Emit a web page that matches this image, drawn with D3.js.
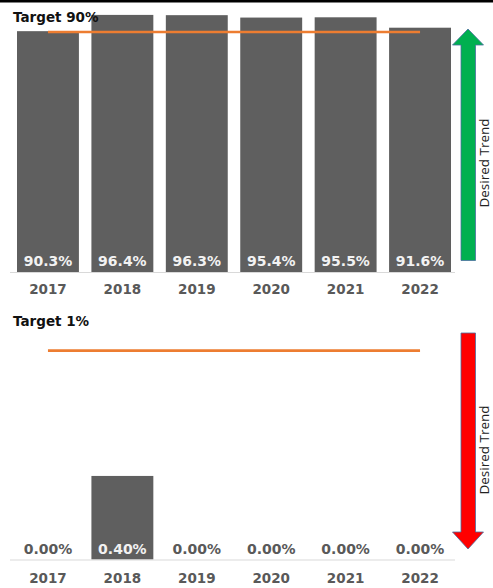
<!DOCTYPE html>
<html>
<head>
<meta charset="utf-8">
<script src="https://cdn.jsdelivr.net/npm/d3@7"></script>
<style>
  html, body { margin: 0; padding: 0; background: #ffffff; }
  svg { display: block; }
</style>
</head>
<body>
<div id="chart"></div>
<script>
// ---- data ----
const years = ["2017", "2018", "2019", "2020", "2021", "2022"];
const topValues = [90.3, 96.4, 96.3, 95.4, 95.5, 91.6];
const topTarget = 90;
const topTargetLabel = "Target 90%";
const bottomValues = [0.00, 0.40, 0.00, 0.00, 0.00, 0.00];
const bottomTarget = 1;
const bottomTargetLabel = "Target 1%";
const trendLabel = "Desired Trend";

// ---- layout ----
const W = 493, H = 588;
const svg = d3.select("#chart").append("svg").attr("width", W).attr("height", H);

const barColor = "#5f5f5f";
const targetColor = "#ED7D31";
const axisColor = "#d9d9d9";
const greyText = "#595959";
const numFont = "'DejaVu Sans', Verdana, sans-serif";

// top border line
svg.append("rect").attr("x", 0).attr("y", 0).attr("width", W).attr("height", 2.5).attr("fill", "#000");

const x = d3.scaleBand().domain(years).range([10.75, 457.25]).paddingInner(0.168).paddingOuter(0.084);

function panel(cfg) {
  const g = svg.append("g");
  const y = cfg.y;
  const base = y(0);

  // bars
  g.selectAll("rect.bar").data(cfg.values.map((v, i) => ({ v, yr: years[i] })))
    .enter().append("rect").attr("class", "bar")
    .attr("x", d => x(d.yr))
    .attr("width", x.bandwidth())
    .attr("y", d => y(d.v))
    .attr("height", d => base - y(d.v))
    .attr("fill", barColor);

  // axis (baseline + year labels)
  const axis = d3.axisBottom(x).tickSize(0).tickPadding(0);
  const ag = g.append("g").attr("transform", `translate(0,${base})`).call(axis);
  ag.select(".domain").remove();
  g.append("line").attr("x1", 10).attr("x2", 455).attr("y1", base + 0.5).attr("y2", base + 0.5)
    .attr("stroke", axisColor).attr("stroke-width", 1.2);
  ag.selectAll(".tick text")
    .attr("y", cfg.yearDy)
    .attr("dy", 0)
    .attr("fill", greyText)
    .attr("font-family", numFont)
    .attr("font-weight", "bold")
    .attr("font-size", 13.5);

  // value labels
  g.selectAll("text.val").data(cfg.values.map((v, i) => ({ v, yr: years[i] })))
    .enter().append("text").attr("class", "val")
    .attr("x", d => x(d.yr) + x.bandwidth() / 2)
    .attr("y", base - cfg.valDy)
    .attr("text-anchor", "middle")
    .attr("font-family", numFont)
    .attr("font-weight", "bold")
    .attr("font-size", 14)
    .attr("fill", d => d.v > 0 ? "#f2f2f2" : greyText)
    .text(d => cfg.fmt(d.v) + "%");

  // target line
  g.append("line")
    .attr("x1", x(years[0]) + x.bandwidth() / 2)
    .attr("x2", x(years[years.length - 1]) + x.bandwidth() / 2)
    .attr("y1", y(cfg.target)).attr("y2", y(cfg.target))
    .attr("stroke", targetColor).attr("stroke-width", 2.6);

  // target title
  g.append("text").attr("x", 13).attr("y", cfg.titleY)
    .attr("font-family", numFont).attr("font-weight", "bold").attr("font-size", 13.5)
    .attr("fill", "#111").text(cfg.title);

  // trend arrow
  const ax0 = 461, ax1 = 475.5, hx0 = 452.5, hx1 = 483.5, cx = (hx0 + hx1) / 2;
  let pts;
  if (cfg.up) {
    const tip = cfg.arrowTip, sh = tip + 16, end = cfg.arrowEnd;
    pts = [[cx, tip], [hx1, sh], [ax1, sh], [ax1, end], [ax0, end], [ax0, sh], [hx0, sh]];
  } else {
    const start = cfg.arrowEnd, tip = cfg.arrowTip, sh = tip - 17;
    pts = [[ax0, start], [ax1, start], [ax1, sh], [hx1, sh], [cx, tip], [hx0, sh], [ax0, sh]];
  }
  g.append("path").attr("d", d3.line()(pts) + "Z")
    .attr("fill", cfg.arrowColor).attr("stroke", "#4a6fa0").attr("stroke-width", 0.8);

  // trend label
  g.append("text")
    .attr("transform", `translate(489,${cfg.trendY}) rotate(-90)`)
    .attr("text-anchor", "middle")
    .attr("font-family", "'Open Sans', 'Liberation Sans', sans-serif")
    .attr("font-size", 13.5)
    .attr("fill", "#222")
    .text(trendLabel);
}

panel({
  values: topValues, target: topTarget, title: topTargetLabel,
  y: d3.scaleLinear().domain([0, 100]).range([272, 5.3]),
  fmt: d3.format(".1f"), yearDy: 22, valDy: 6, titleY: 22,
  up: true, arrowTip: 29, arrowEnd: 260.5, arrowColor: "#00B050", trendY: 163
});

panel({
  values: bottomValues, target: bottomTarget, title: bottomTargetLabel,
  y: d3.scaleLinear().domain([0, 1]).range([559.5, 350.6]),
  fmt: d3.format(".2f"), yearDy: 23.5, valDy: 6, titleY: 326,
  up: false, arrowTip: 549, arrowEnd: 333, arrowColor: "#FF0000", trendY: 450
});
</script>
</body>
</html>
